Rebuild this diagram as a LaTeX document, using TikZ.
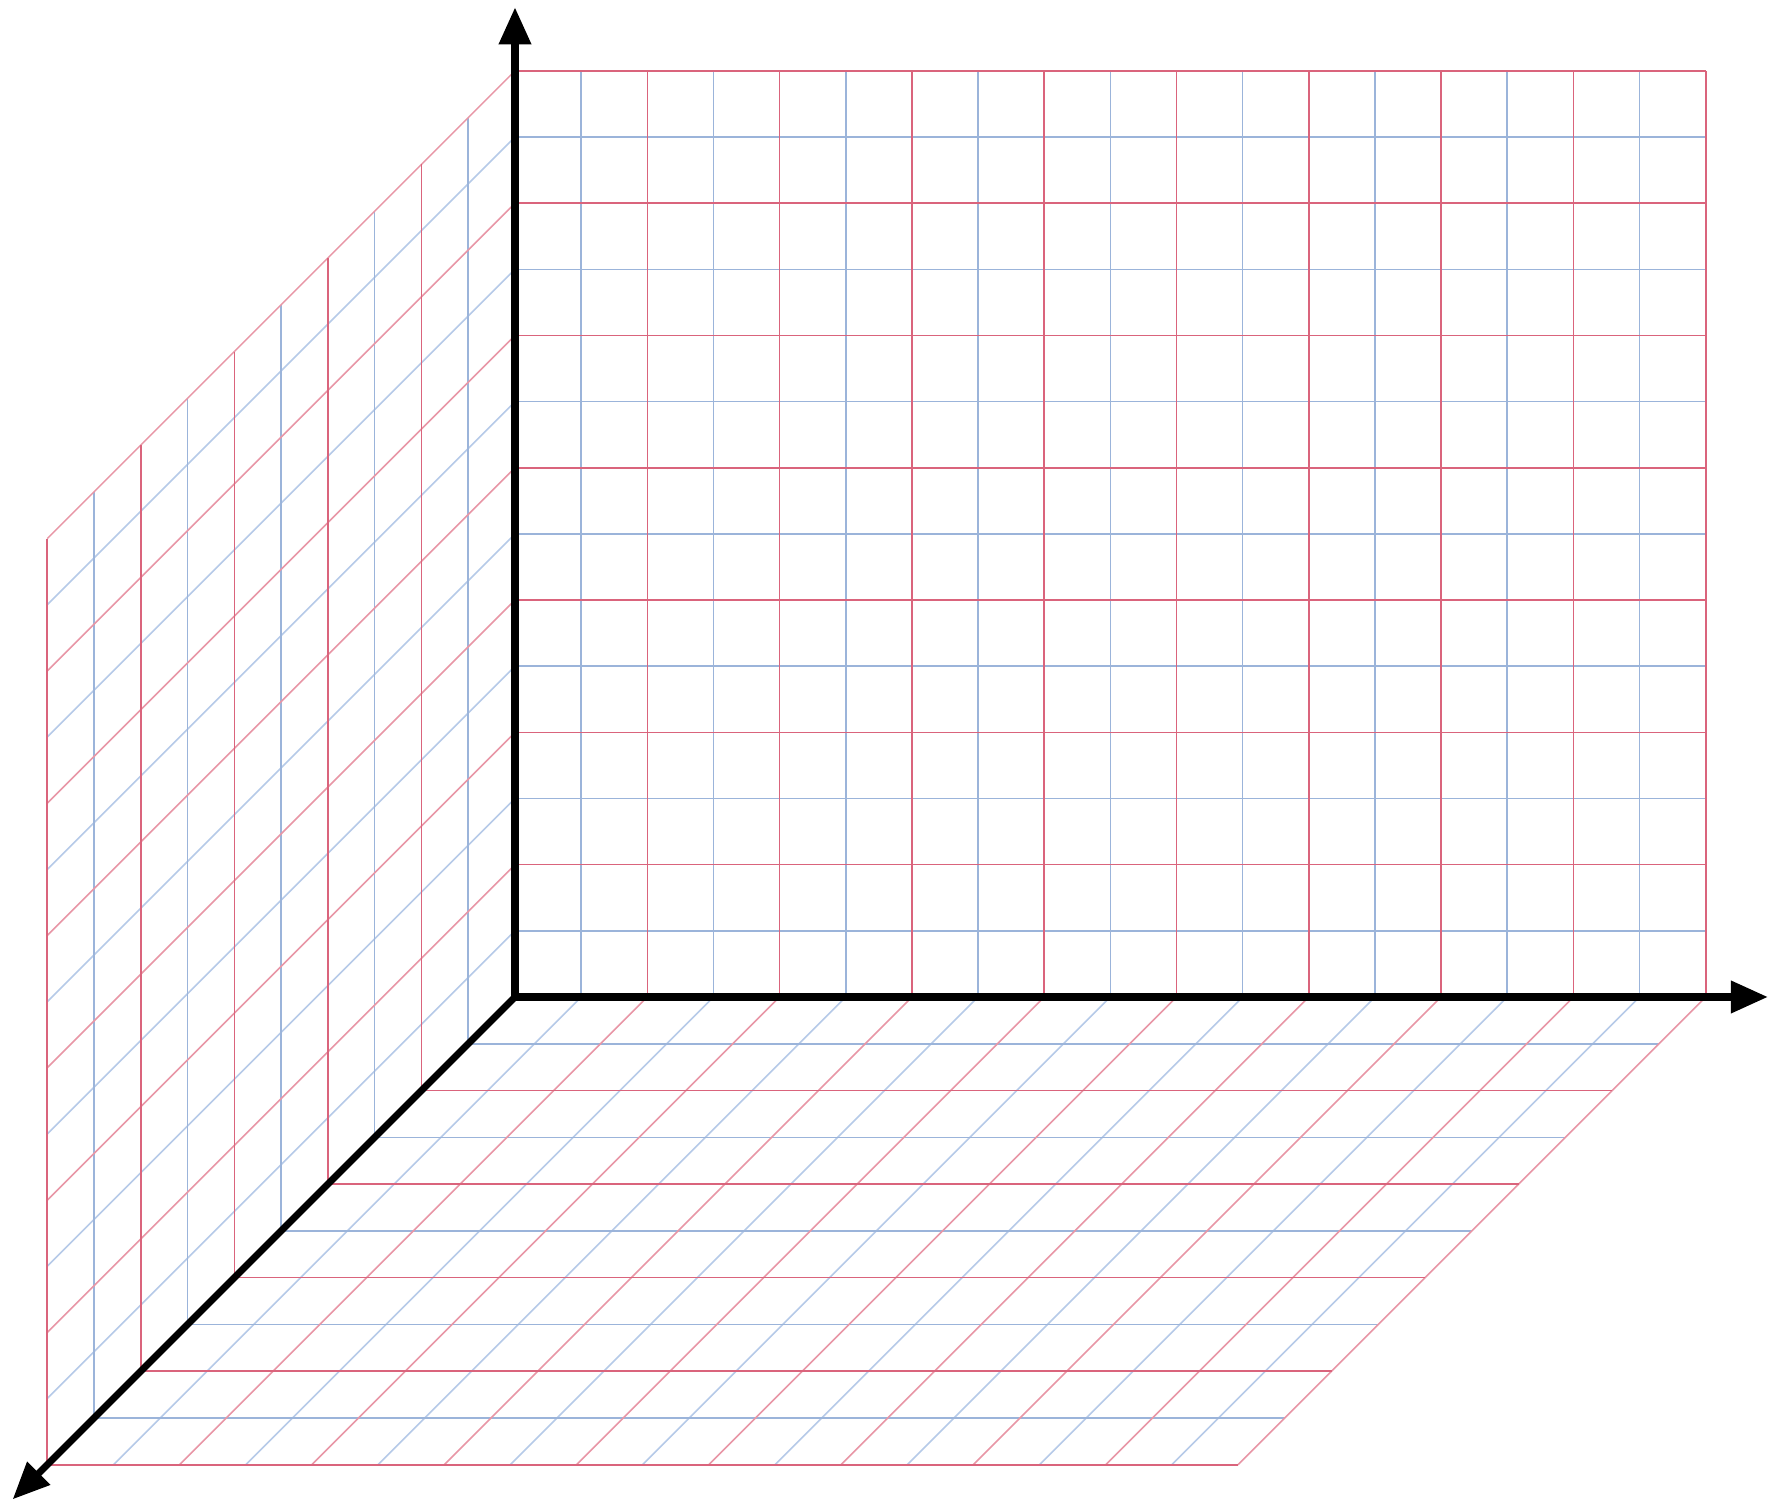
\documentclass[tikz,border=0pt]{standalone}
\usetikzlibrary{arrows.meta}
\definecolor{gridred}{RGB}{218,100,124}
\definecolor{gridblue}{RGB}{155,180,218}
\definecolor{diagred}{RGB}{232,150,166}
\definecolor{diagblue}{RGB}{182,202,232}
\tikzset{
  minor/.style={draw=gridblue, line width=0.45pt},
  major/.style={draw=gridred, line width=0.45pt},
  minordiag/.style={draw=diagblue, line width=0.45pt},
  majordiag/.style={draw=diagred, line width=0.45pt},
  axis/.style={draw=black, line width=2pt, -{Triangle[length=0.37cm,width=0.31cm]}}
}
\begin{document}
\begin{tikzpicture}
\useasboundingbox (0,0) rectangle (17.76,15.02);
\fill[white] (0,0) rectangle (17.76,15.02);
\begin{scope}[shift={(5.15,5.05)}, x={(1.323cm,0cm)}, y={(0cm,1.323cm)}, z={(-0.9355cm,-0.9355cm)}]
  \coordinate (O) at (0,0,0);
  \coordinate (Xtip) at (9.47,0,0);
  \coordinate (Ytip) at (0,7.48,0);
  \coordinate (Ztip) at (0,0,5.37);
  % minor (blue) lines
  \foreach \k in {0.5,1.5,...,8.5} {
    \draw[minor] (\k,0,0) -- (\k,7,0);       % back wall verticals
    \draw[minordiag] (\k,0,0) -- (\k,0,5);   % floor depth lines
  }
  \foreach \k in {0.5,1.5,...,6.5} {
    \draw[minor] (0,\k,0) -- (9,\k,0);       % back wall horizontals
    \draw[minordiag] (0,\k,0) -- (0,\k,5);   % left wall depth lines
  }
  \foreach \k in {0.5,1.5,...,4.5} {
    \draw[minor] (0,0,\k) -- (9,0,\k);       % floor horizontals
    \draw[minor] (0,0,\k) -- (0,7,\k);       % left wall verticals
  }
  % major (red) lines
  \foreach \k in {1,...,9} {
    \draw[major] (\k,0,0) -- (\k,7,0);
    \draw[majordiag] (\k,0,0) -- (\k,0,5);
  }
  \foreach \k in {1,...,7} {
    \draw[major] (0,\k,0) -- (9,\k,0);
    \draw[majordiag] (0,\k,0) -- (0,\k,5);
  }
  \foreach \k in {1,...,5} {
    \draw[major] (0,0,\k) -- (9,0,\k);
    \draw[major] (0,0,\k) -- (0,7,\k);
  }
  % axes
  \draw[axis] (O) -- (Ytip);
  \draw[axis] (O) -- (Xtip);
  \draw[axis] (O) -- (Ztip);
\end{scope}
\end{tikzpicture}
\end{document}
